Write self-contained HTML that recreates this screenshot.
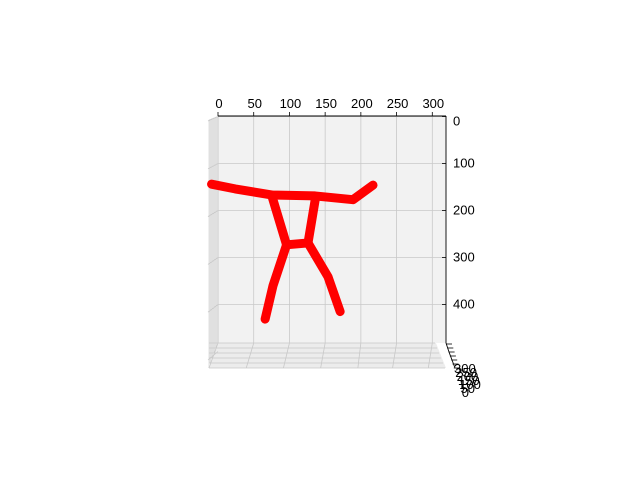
<!DOCTYPE html>
<html><head><meta charset="utf-8"><style>
html,body{margin:0;padding:0;background:#fff;}
svg{display:block;font-family:"Liberation Sans","DejaVu Sans",sans-serif;}
</style></head><body>
<svg width="640" height="480" viewBox="0 0 640 480">
<g id="axes"></g>
<g id="marks"></g>
</svg>
<script>
const xTicks=[0,50,100,150,200,250,300];
const yTicks=[0,100,200,300,400];
const zTicks=[300,250,200,150,100,50,0];
const armsX=[-9,24,75,136,189,217];
const armsY=[144,154,167,169,177,146];
const torsoX=[75,96,126,136];
const torsoY=[167,273,269,178];
const leftLegX=[96,77,66];
const leftLegY=[273,360,431];
const rightLegX=[126,154,171];
const rightLegY=[269,341,415];

const X=v=>218+v*0.7143;
const Y=v=>116.5+v*0.47;
const NS="http://www.w3.org/2000/svg";
const ax=document.getElementById('axes'), mk=document.getElementById('marks');
function el(p,tag,attrs){const e=document.createElementNS(NS,tag);for(const k in attrs)e.setAttribute(k,attrs[k]);p.appendChild(e);return e;}

const pane=el(ax,'rect',{x:218,y:116,width:228,height:227,fill:'#f2f2f2'});


const lp=el(ax,'polygon',{points:'208,120 218,116 218,343 208,368',fill:'#f0f0f0'});


const fp=el(ax,'polygon',{points:'208,368 218,343 436,343 446,368',fill:'#ececec'});


for(let i=0;i<6;i++){const yy=121+i*47;el(ax,'line',{x1:208,y1:yy+i*0.8,x2:218,y2:Y(i*100),stroke:'#c8c8c8','stroke-width':0.8});}
for(let i=0;i<5;i++){el(ax,'line',{x1:210+i*2,y1:119-i*0.7,x2:210+i*2,y2:363-i*5,stroke:'#c8c8c8','stroke-width':0.8});}
for(let i=0;i<6;i++){el(ax,'line',{x1:209,y1:368-i*5,x2:445-i*2,y2:368-i*5,stroke:'#c8c8c8','stroke-width':0.8});}
xTicks.forEach(v=>{el(ax,'line',{x1:X(v),y1:343,x2:X(v)-(v<250?9-v*0.03:4),y2:368,stroke:'#c8c8c8','stroke-width':0.8});});
xTicks.forEach(v=>{const g=el(ax,'line',{x1:X(v),y1:116,x2:X(v),y2:343,stroke:'#c8c8c8','stroke-width':0.8});
});
yTicks.forEach(v=>{const g=el(ax,'line',{x1:218,y1:Y(v),x2:446,y2:Y(v),stroke:'#c8c8c8','stroke-width':0.8});
});
el(ax,'line',{x1:218,y1:116,x2:446,y2:116,stroke:'#000','stroke-width':0.9});
xTicks.forEach(v=>{el(ax,'line',{x1:X(v),y1:116,x2:X(v),y2:112,stroke:'#000','stroke-width':0.8});
const t=el(ax,'text',{x:X(v)+1,y:108,'font-size':13,'text-anchor':'middle',fill:'#000'});t.textContent=v;
});
el(ax,'line',{x1:446,y1:116,x2:446,y2:343,stroke:'#000','stroke-width':0.9});
yTicks.forEach(v=>{el(ax,'line',{x1:442,y1:Y(v),x2:446,y2:Y(v),stroke:'#000','stroke-width':0.8});
const t=el(ax,'text',{x:453,y:Y(v)+(v===0?9:4),'font-size':13,fill:'#000'});t.textContent=v;
});
el(ax,'polyline',{points:'446,343 449,352 452,360 455,368',fill:'none',stroke:'#000','stroke-width':0.9});
zTicks.forEach((v,i)=>{const yy=344+i*4;el(ax,'line',{x1:446+i*1.3,y1:yy,x2:452+i*1.3,y2:yy,stroke:'#000','stroke-width':0.8});
const t=el(ax,'text',{x:454+i*1.3,y:373+i*4,'font-size':13,fill:'#000'});t.textContent=v;
});

function poly(xs,ys,name){const pts=xs.map((x,i)=>X(x)+','+Y(ys[i])).join(' ');
const p=el(mk,'polyline',{points:pts,fill:'none',stroke:'#ff0000','stroke-width':9,'stroke-linecap':'round','stroke-linejoin':'round'});

}
poly(armsX,armsY,'arms-line');
poly(torsoX,torsoY,'torso-line');
poly(leftLegX,leftLegY,'left-leg-line');
poly(rightLegX,rightLegY,'right-leg-line');
</script>
</body></html>
